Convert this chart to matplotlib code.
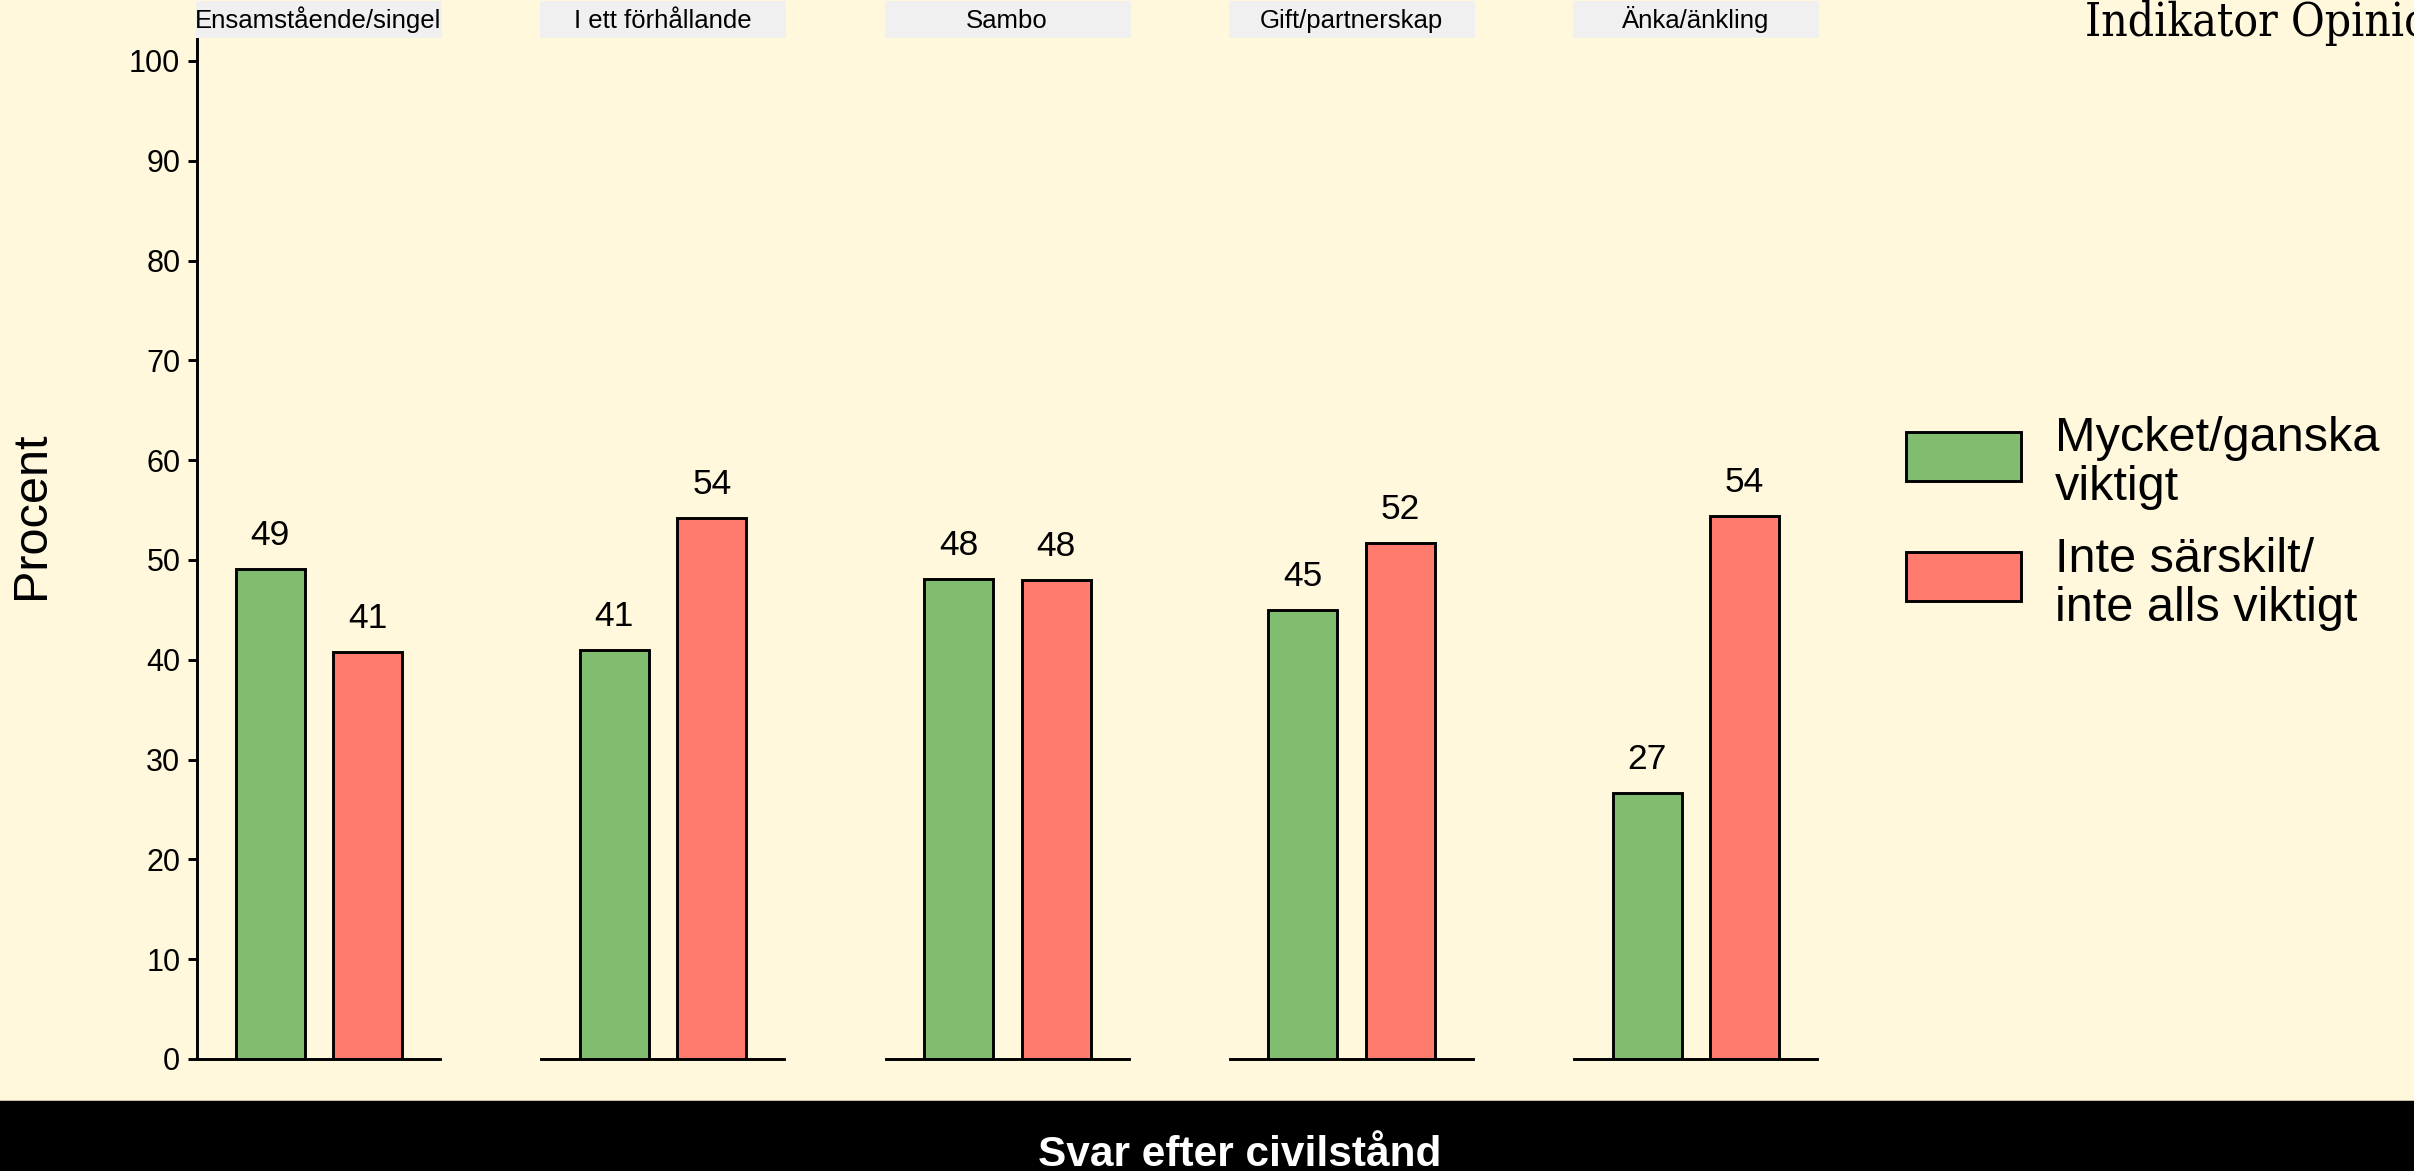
import matplotlib
matplotlib.use("Agg")
import matplotlib.pyplot as plt
from matplotlib.patches import Rectangle

# ---- data ----
categories = ["Ensamstående/singel", "I ett förhållande", "Sambo",
              "Gift/partnerskap", "Änka/änkling"]
series_names = ["Mycket/ganska\nviktigt", "Inte särskilt/\ninte alls viktigt"]
green_values = [49.1, 41.0, 48.1, 45.0, 26.7]
red_values = [40.8, 54.2, 48.0, 51.7, 54.4]
y_ticks = [0, 10, 20, 30, 40, 50, 60, 70, 80, 90, 100]
x_title = "Svar efter civilstånd"
y_title = "Procent"
brand = "Indikator Opinion"

# ---- style ----
W, H = 2414, 1171
DPI = 100
BG = "#FFF8DC"
GREEN = "#80BD6E"
RED = "#FF7B6E"
STRIP = "#F0F0F0"
SANS = ["Liberation Sans", "DejaVu Sans"]
LW = 2.1

plt.rcParams["font.family"] = SANS

fig = plt.figure(figsize=(W / DPI, H / DPI), dpi=DPI, facecolor=BG)

def fx(px):
    return px / W

def fy(py):  # py measured from top
    return 1 - py / H

panel_left0 = 197
panel_step = 344.25
panel_w = 243
panel_top = 39
panel_bot = 1059
unit = 97.5
xleft = -73 / unit
xright = xleft + panel_w / unit
ymax = 102.2
bar_w = 69 / unit

series_colors = [GREEN, RED]
all_values = [green_values, red_values]

for i, cat in enumerate(categories):
    left = panel_left0 + i * panel_step
    ax = fig.add_axes([fx(left), fy(panel_bot), panel_w / W,
                       (panel_bot - panel_top) / H])
    ax.set_facecolor(BG)
    vals = [all_values[0][i], all_values[1][i]]
    xs = [0, 1]
    ax.bar(xs, vals, width=bar_w, color=series_colors, edgecolor="black",
           linewidth=LW, zorder=2)
    for x, v in zip(xs, vals):
        ax.text(x, v + 2.4, f"{round(v):d}", ha="center", va="baseline",
                fontsize=25.5, color="black", zorder=3)
    ax.set_xlim(xleft, xright)
    ax.set_ylim(0, ymax)
    ax.set_xticks([])
    for s in ["top", "right"]:
        ax.spines[s].set_visible(False)
    ax.spines["bottom"].set_linewidth(LW)
    ax.spines["bottom"].set_color("black")
    if i == 0:
        ax.spines["left"].set_linewidth(LW)
        ax.spines["left"].set_color("black")
        ax.set_yticks(y_ticks)
        ax.tick_params(axis="y", length=6.5, width=LW, labelsize=22, pad=5.5,
                       colors="black")
    else:
        ax.spines["left"].set_visible(False)
        ax.set_yticks([])
    # strip
    ph = panel_bot - panel_top
    ax.add_patch(Rectangle((-1 / panel_w, 1 + 1 / ph), 246 / panel_w, 37 / ph,
                           transform=ax.transAxes, facecolor=STRIP,
                           edgecolor="none", clip_on=False, zorder=1))
    ax.text(0.5, 1 + 11 / ph, cat, transform=ax.transAxes, ha="center",
            va="baseline", fontsize=18.5, color="black", clip_on=False)

# y title
fig.text(fx(31), fy(515), y_title, rotation=90, ha="center", va="center",
         fontsize=35, color="black")

# legend (manual layout)
key_tops = [432, 552]
for k, (name, col) in enumerate(zip(series_names, series_colors)):
    top = key_tops[k]
    fig.patches.append(Rectangle((fx(1906), fy(top + 49)), 115 / W, 49 / H,
                                 transform=fig.transFigure, facecolor=col,
                                 edgecolor="black", linewidth=LW))
    lines = name.split("\n")
    base0 = top + 19 if k == 0 else top + 20
    for j, ln in enumerate(lines):
        fig.text(fx(2055), fy(base0 + j * 49), ln, ha="left", va="baseline",
                 fontsize=35, color="black")

# brand
fig.text(fx(2085), fy(36), brand, ha="left", va="baseline", fontsize=33,
         family=["DejaVu Serif"], fontstretch="condensed", color="black")

# bottom band
fig.patches.append(Rectangle((0, 0), 1, 70 / H, transform=fig.transFigure,
                             facecolor="black", edgecolor="none"))
fig.patches.append(Rectangle((0, 70 / H), 1, 1.5 / H, transform=fig.transFigure,
                             facecolor="#C8BFA0", edgecolor="none"))
fig.text(fx(1240), fy(1166), x_title, ha="center", va="baseline",
         fontsize=30.5, fontweight="bold", color="white")

fig.savefig("out.png", dpi=DPI, facecolor=BG)
